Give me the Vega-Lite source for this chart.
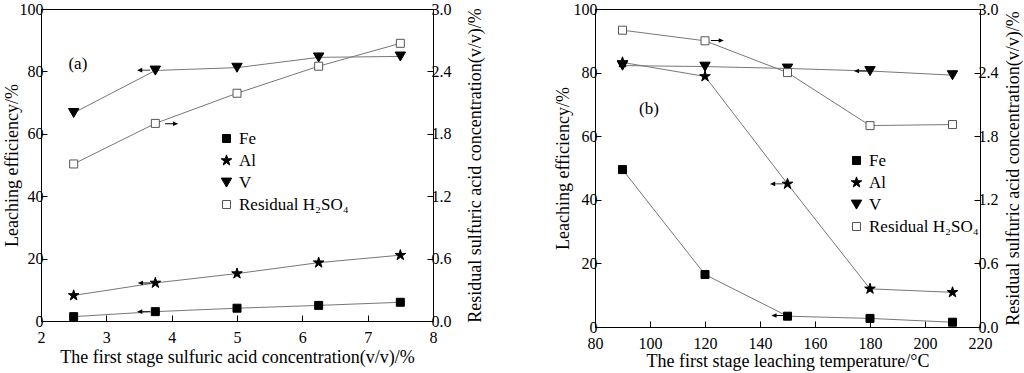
{
  "$schema": "https://vega.github.io/schema/vega-lite/v6.json",
  "padding": {"left": 2, "top": 0, "right": 2, "bottom": 3},
  "background": "white",
  "config": {
    "font": "Liberation Serif",
    "view": {"stroke": "black", "strokeWidth": 1},
    "axis": {
      "labelFont": "Liberation Serif", "titleFont": "Liberation Serif",
      "labelFontSize": 16, "titleFontSize": 18, "titleFontWeight": "normal",
      "labelColor": "black", "titleColor": "black", "domainColor": "black", "tickColor": "black",
      "grid": false, "labelFlush": false, "labelOverlap": false, "labelPadding": 4
    },
    "legend": {
      "labelFont": "Liberation Serif", "labelFontSize": 17, "labelColor": "black",
      "symbolSize": 64, "symbolStrokeWidth": 1, "labelOffset": 4, "rowPadding": 4
    }
  },
  "datasets": {
    "a": [
      {"x": 2.5, "series": "Fe", "value": 1.4}, {"x": 3.75, "series": "Fe", "value": 3.0}, {"x": 5, "series": "Fe", "value": 4.1}, {"x": 6.25, "series": "Fe", "value": 5.0}, {"x": 7.5, "series": "Fe", "value": 6.0},
      {"x": 2.5, "series": "Al", "value": 8.2}, {"x": 3.75, "series": "Al", "value": 12.2}, {"x": 5, "series": "Al", "value": 15.2}, {"x": 6.25, "series": "Al", "value": 18.7}, {"x": 7.5, "series": "Al", "value": 21.1},
      {"x": 2.5, "series": "V", "value": 66.7}, {"x": 3.75, "series": "V", "value": 80.3}, {"x": 5, "series": "V", "value": 81.2}, {"x": 6.25, "series": "V", "value": 84.5}, {"x": 7.5, "series": "V", "value": 84.8},
      {"x": 2.5, "series": "Residual H₂SO₄", "value": 1.51}, {"x": 3.75, "series": "Residual H₂SO₄", "value": 1.9}, {"x": 5, "series": "Residual H₂SO₄", "value": 2.19}, {"x": 6.25, "series": "Residual H₂SO₄", "value": 2.45}, {"x": 7.5, "series": "Residual H₂SO₄", "value": 2.67}
    ],
    "b": [
      {"x": 90, "series": "Fe", "value": 49.5}, {"x": 120, "series": "Fe", "value": 16.5}, {"x": 150, "series": "Fe", "value": 3.4}, {"x": 180, "series": "Fe", "value": 2.7}, {"x": 210, "series": "Fe", "value": 1.5},
      {"x": 90, "series": "Al", "value": 83.2}, {"x": 120, "series": "Al", "value": 78.8}, {"x": 150, "series": "Al", "value": 45.0}, {"x": 180, "series": "Al", "value": 12.0}, {"x": 210, "series": "Al", "value": 10.9},
      {"x": 90, "series": "V", "value": 82.2}, {"x": 120, "series": "V", "value": 81.9}, {"x": 150, "series": "V", "value": 81.3}, {"x": 180, "series": "V", "value": 80.5}, {"x": 210, "series": "V", "value": 79.2},
      {"x": 90, "series": "Residual H₂SO₄", "value": 2.8}, {"x": 120, "series": "Residual H₂SO₄", "value": 2.7}, {"x": 150, "series": "Residual H₂SO₄", "value": 2.4}, {"x": 180, "series": "Residual H₂SO₄", "value": 1.9}, {"x": 210, "series": "Residual H₂SO₄", "value": 1.91}
    ],
    "arrowsA": [
      {"x": 3.57, "value": 80.4, "dir": "left"}, {"x": 4.0, "value": 63.2, "dir": "right"},
      {"x": 3.58, "value": 12.2, "dir": "left"}, {"x": 3.57, "value": 3.0, "dir": "left"}
    ],
    "arrowsB": [
      {"x": 124.5, "value": 90.1, "dir": "right"}, {"x": 176.5, "value": 80.5, "dir": "left"},
      {"x": 146, "value": 45.0, "dir": "left"}, {"x": 146.5, "value": 3.6, "dir": "left"}
    ],
    "labelA": [{"x": 2.42, "value": 82.5, "text": "(a)"}],
    "labelB": [{"x": 96, "value": 68.5, "text": "(b)"}]
  },
  "resolve": {
    "scale": {"shape": "independent", "fill": "independent", "stroke": "independent"}
  },
  "spacing": 68,
  "hconcat": [
    {
      "width": 392, "height": 312,
      "resolve": {"scale": {"y": "independent"}},
      "layer": [
        {
          "layer": [
            {
              "data": {"name": "a"},
              "transform": [{"filter": "datum.series !== 'Residual H₂SO₄'"}],
              "mark": {"type": "line", "color": "#777", "strokeWidth": 1},
              "encoding": {
                "x": {"field": "x", "type": "quantitative", "scale": {"domain": [2, 8], "nice": false},
                  "axis": {"title": "The first stage sulfuric acid concentration(v/v)/%", "values": [2, 2.5, 3, 3.5, 4, 4.5, 5, 5.5, 6, 6.5, 7, 7.5, 8],
                    "labelExpr": "datum.value % 1 == 0 ? '' + datum.value : ''",
                    "tickSize": {"condition": {"test": "datum.value % 1 != 0", "value": -3}, "value": -6},
                    "labelPadding": 14, "titlePadding": 3}},
                "y": {"field": "value", "type": "quantitative", "scale": {"domain": [0, 100], "nice": false},
                  "axis": {"title": "Leaching efficiency/%", "orient": "left", "values": [0, 10, 20, 30, 40, 50, 60, 70, 80, 90, 100],
                    "labelExpr": "datum.value % 20 == 0 ? '' + datum.value : ''",
                    "tickSize": {"condition": {"test": "datum.value % 20 != 0", "value": -3}, "value": -6},
                    "titlePadding": -2}},
                "detail": {"field": "series"}
              }
            },
            {
              "data": {"name": "a"},
              "transform": [{"filter": "datum.series !== 'Residual H₂SO₄'"}],
              "mark": {"type": "point", "opacity": 1, "strokeWidth": 1, "size": 64},
              "encoding": {
                "x": {"field": "x", "type": "quantitative"},
                "y": {"field": "value", "type": "quantitative"},
                "shape": {"field": "series", "type": "nominal", "scale": {"domain": ["Fe", "Al", "V", "Residual H₂SO₄"], "range": ["square", "M0,-1.4L0.315,-0.433L1.331,-0.433L0.508,0.165L0.823,1.133L0,0.535L-0.823,1.133L-0.508,0.165L-1.331,-0.433L-0.315,-0.433Z", "M-1.3,-1.1H1.3L0,1.15Z", "square"]},
                  "legend": {"title": null, "orient": "none", "legendX": 177, "legendY": 121}},
                "fill": {"field": "series", "type": "nominal", "scale": {"domain": ["Fe", "Al", "V", "Residual H₂SO₄"], "range": ["black", "black", "black", "white"]},
                  "legend": {"title": null, "orient": "none", "legendX": 177, "legendY": 121}},
                "stroke": {"field": "series", "type": "nominal", "scale": {"domain": ["Fe", "Al", "V", "Residual H₂SO₄"], "range": ["black", "black", "black", "#555"]},
                  "legend": {"title": null, "orient": "none", "legendX": 177, "legendY": 121}}
              }
            },
            {
              "data": {"name": "arrowsA"},
              "transform": [{"filter": "datum.dir === 'left'"}],
              "mark": {"type": "point", "shape": "M-1,0L-0.2,-0.35L-0.2,0.35ZM-0.2,-0.07H1V0.07H-0.2Z", "filled": true, "color": "black", "size": 170, "opacity": 1},
              "encoding": {"x": {"field": "x", "type": "quantitative"}, "y": {"field": "value", "type": "quantitative"}}
            },
            {
              "data": {"name": "arrowsA"},
              "transform": [{"filter": "datum.dir === 'right'"}],
              "mark": {"type": "point", "shape": "M1,0L0.2,-0.35L0.2,0.35ZM0.2,-0.07H-1V0.07H0.2Z", "filled": true, "color": "black", "size": 170, "opacity": 1},
              "encoding": {"x": {"field": "x", "type": "quantitative"}, "y": {"field": "value", "type": "quantitative"}}
            },
            {
              "data": {"name": "labelA"},
              "mark": {"type": "text", "align": "left", "baseline": "middle", "fontSize": 17, "font": "Liberation Serif", "color": "black"},
              "encoding": {"x": {"field": "x", "type": "quantitative"}, "y": {"field": "value", "type": "quantitative"}, "text": {"field": "text"}}
            }
          ]
        },
        {
          "layer": [
            {
              "data": {"name": "a"},
              "transform": [{"filter": "datum.series === 'Residual H₂SO₄'"}],
              "mark": {"type": "line", "color": "#777", "strokeWidth": 1},
              "encoding": {
                "x": {"field": "x", "type": "quantitative"},
                "y": {"field": "value", "type": "quantitative", "scale": {"domain": [0, 3], "nice": false},
                  "axis": {"title": "Residual sulfuric acid concentration(v/v)/%", "orient": "right", "titleAngle": 270, "values": [0, 0.3, 0.6, 0.9, 1.2, 1.5, 1.8, 2.1, 2.4, 2.7, 3.0],
                    "labelExpr": "round(datum.value * 10) % 6 == 0 ? format(datum.value, '.1f') : ''",
                    "tickSize": {"condition": {"test": "round(datum.value * 10) % 6 != 0", "value": -3}, "value": -6},
                    "titlePadding": 33}}
              }
            },
            {
              "data": {"name": "a"},
              "transform": [{"filter": "datum.series === 'Residual H₂SO₄'"}],
              "mark": {"type": "point", "opacity": 1, "strokeWidth": 1, "size": 64},
              "encoding": {
                "x": {"field": "x", "type": "quantitative"},
                "y": {"field": "value", "type": "quantitative"},
                "shape": {"field": "series", "type": "nominal"},
                "fill": {"field": "series", "type": "nominal"},
                "stroke": {"field": "series", "type": "nominal"}
              }
            }
          ]
        }
      ]
    },
    {
      "width": 385, "height": 318,
      "resolve": {"scale": {"y": "independent"}},
      "layer": [
        {
          "layer": [
            {
              "data": {"name": "b"},
              "transform": [{"filter": "datum.series !== 'Residual H₂SO₄'"}],
              "mark": {"type": "line", "color": "#777", "strokeWidth": 1},
              "encoding": {
                "x": {"field": "x", "type": "quantitative", "scale": {"domain": [80, 220], "nice": false},
                  "axis": {"title": "The first stage leaching temperature/°C", "values": [80, 90, 100, 110, 120, 130, 140, 150, 160, 170, 180, 190, 200, 210, 220],
                    "labelExpr": "datum.value % 20 == 0 ? '' + datum.value : ''",
                    "tickSize": {"condition": {"test": "datum.value % 20 != 0", "value": -3}, "value": -6},
                    "labelPadding": 14, "titlePadding": 1}},
                "y": {"field": "value", "type": "quantitative", "scale": {"domain": [0, 100], "nice": false},
                  "axis": {"title": "Leaching efficiency/%", "orient": "left", "values": [0, 10, 20, 30, 40, 50, 60, 70, 80, 90, 100],
                    "labelExpr": "datum.value % 20 == 0 ? '' + datum.value : ''",
                    "tickSize": {"condition": {"test": "datum.value % 20 != 0", "value": -3}, "value": -6},
                    "titlePadding": 1}},
                "detail": {"field": "series"}
              }
            },
            {
              "data": {"name": "b"},
              "transform": [{"filter": "datum.series !== 'Residual H₂SO₄'"}],
              "mark": {"type": "point", "opacity": 1, "strokeWidth": 1, "size": 64},
              "encoding": {
                "x": {"field": "x", "type": "quantitative"},
                "y": {"field": "value", "type": "quantitative"},
                "shape": {"field": "series", "type": "nominal", "scale": {"domain": ["Fe", "Al", "V", "Residual H₂SO₄"], "range": ["square", "M0,-1.4L0.315,-0.433L1.331,-0.433L0.508,0.165L0.823,1.133L0,0.535L-0.823,1.133L-0.508,0.165L-1.331,-0.433L-0.315,-0.433Z", "M-1.3,-1.1H1.3L0,1.15Z", "square"]},
                  "legend": {"title": null, "orient": "none", "legendX": 253, "legendY": 143}},
                "fill": {"field": "series", "type": "nominal", "scale": {"domain": ["Fe", "Al", "V", "Residual H₂SO₄"], "range": ["black", "black", "black", "white"]},
                  "legend": {"title": null, "orient": "none", "legendX": 253, "legendY": 143}},
                "stroke": {"field": "series", "type": "nominal", "scale": {"domain": ["Fe", "Al", "V", "Residual H₂SO₄"], "range": ["black", "black", "black", "#555"]},
                  "legend": {"title": null, "orient": "none", "legendX": 253, "legendY": 143}}
              }
            },
            {
              "data": {"name": "arrowsB"},
              "transform": [{"filter": "datum.dir === 'left'"}],
              "mark": {"type": "point", "shape": "M-1,0L-0.2,-0.35L-0.2,0.35ZM-0.2,-0.07H1V0.07H-0.2Z", "filled": true, "color": "black", "size": 170, "opacity": 1},
              "encoding": {"x": {"field": "x", "type": "quantitative"}, "y": {"field": "value", "type": "quantitative"}}
            },
            {
              "data": {"name": "arrowsB"},
              "transform": [{"filter": "datum.dir === 'right'"}],
              "mark": {"type": "point", "shape": "M1,0L0.2,-0.35L0.2,0.35ZM0.2,-0.07H-1V0.07H0.2Z", "filled": true, "color": "black", "size": 170, "opacity": 1},
              "encoding": {"x": {"field": "x", "type": "quantitative"}, "y": {"field": "value", "type": "quantitative"}}
            },
            {
              "data": {"name": "labelB"},
              "mark": {"type": "text", "align": "left", "baseline": "middle", "fontSize": 17, "font": "Liberation Serif", "color": "black"},
              "encoding": {"x": {"field": "x", "type": "quantitative"}, "y": {"field": "value", "type": "quantitative"}, "text": {"field": "text"}}
            }
          ]
        },
        {
          "layer": [
            {
              "data": {"name": "b"},
              "transform": [{"filter": "datum.series === 'Residual H₂SO₄'"}],
              "mark": {"type": "line", "color": "#777", "strokeWidth": 1},
              "encoding": {
                "x": {"field": "x", "type": "quantitative"},
                "y": {"field": "value", "type": "quantitative", "scale": {"domain": [0, 3], "nice": false},
                  "axis": {"title": "Residual sulfuric acid concentration(v/v)/%", "orient": "right", "titleAngle": 270, "values": [0, 0.3, 0.6, 0.9, 1.2, 1.5, 1.8, 2.1, 2.4, 2.7, 3.0],
                    "labelExpr": "round(datum.value * 10) % 6 == 0 ? format(datum.value, '.1f') : ''",
                    "tickSize": {"condition": {"test": "round(datum.value * 10) % 6 != 0", "value": -3}, "value": -6},
                    "titlePadding": 24}}
              }
            },
            {
              "data": {"name": "b"},
              "transform": [{"filter": "datum.series === 'Residual H₂SO₄'"}],
              "mark": {"type": "point", "opacity": 1, "strokeWidth": 1, "size": 64},
              "encoding": {
                "x": {"field": "x", "type": "quantitative"},
                "y": {"field": "value", "type": "quantitative"},
                "shape": {"field": "series", "type": "nominal"},
                "fill": {"field": "series", "type": "nominal"},
                "stroke": {"field": "series", "type": "nominal"}
              }
            }
          ]
        }
      ]
    }
  ]
}
